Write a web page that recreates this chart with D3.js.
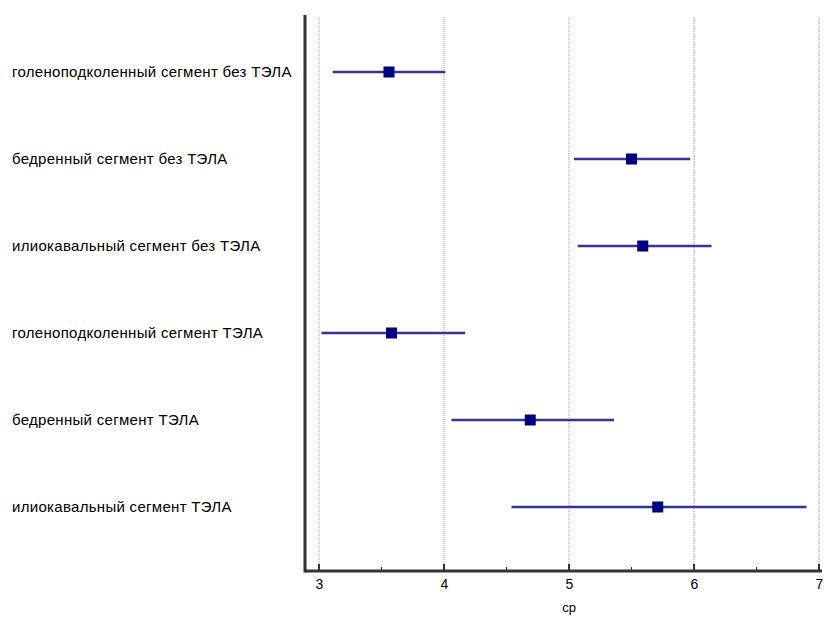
<!DOCTYPE html>
<html>
<head>
<meta charset="utf-8">
<script src="https://cdn.jsdelivr.net/npm/d3@7"></script>
<style>
body { margin: 0; background: #fff; }
text { font-family: "Liberation Sans", Arial, sans-serif; fill: #000; }
</style>
</head>
<body>
<div id="chart"></div>
<script>
// groups, top to bottom
var groups = [
	"голеноподколенный сегмент без ТЭЛА",
	"бедренный сегмент без ТЭЛА",
	"илиокавальный сегмент без ТЭЛА",
	"голеноподколенный сегмент ТЭЛА",
	"бедренный сегмент ТЭЛА",
	"илиокавальный сегмент ТЭЛА"
];
var means = [3.56, 5.50, 5.59, 3.58, 4.69, 5.71];
var lower = [3.11, 5.04, 5.07, 3.02, 4.06, 4.54];
var upper = [4.01, 5.97, 6.14, 4.17, 5.36, 6.90];
var tickValues = [3, 4, 5, 6, 7];
var minorTicks = [3.5, 4.5, 5.5, 6.5];

var size = { width: 824, height: 617 };
var margin = { top: 15, left: 305, right: 2, bottom: 46 };

var svg = d3.select("#chart").append("svg")
	.attr("width", size.width)
	.attr("height", size.height);

// x scale: 3 -> 319px, 7 -> 819px
var x = d3.scaleLinear()
	.domain([2.888, 7.024])
	.range([margin.left, size.width - margin.right]);

var axisY = size.height - margin.bottom;

var y = d3.scalePoint()
	.domain(groups)
	.range([72, 507]);

// dotted grid
svg.append("g")
	.selectAll("line")
	.data(tickValues)
	.enter()
	.append("line")
	.attr("x1", function(d) { return x(d); })
	.attr("x2", function(d) { return x(d); })
	.attr("y1", margin.top + 2)
	.attr("y2", axisY)
	.attr("stroke", "#999")
	.attr("stroke-width", 1)
	.attr("stroke-dasharray", "1,1");

// x axis with inward ticks
var x_axis = d3.axisBottom(x)
	.tickValues(tickValues)
	.tickSize(0)
	.tickPadding(8)
	.tickFormat(d3.format("d"));

var gx = svg.append("g")
	.attr("transform", "translate(0," + axisY + ")")
	.call(x_axis);
gx.select(".domain").remove();
gx.selectAll("text")
	.style("font-size", "14px")
	.style("font-family", "'Liberation Sans', Arial, sans-serif")
	.attr("fill", "#000");

svg.append("g").selectAll("line")
	.data(tickValues)
	.enter()
	.append("line")
	.attr("x1", function(d) { return x(d); })
	.attr("x2", function(d) { return x(d); })
	.attr("y1", axisY)
	.attr("y2", axisY - 7)
	.attr("stroke", "#333")
	.attr("stroke-width", 2);

svg.append("g").selectAll("line")
	.data(minorTicks)
	.enter()
	.append("line")
	.attr("x1", function(d) { return x(d); })
	.attr("x2", function(d) { return x(d); })
	.attr("y1", axisY)
	.attr("y2", axisY - 4)
	.attr("stroke", "#333")
	.attr("stroke-width", 1);

// axis lines
svg.append("line")
	.attr("x1", margin.left)
	.attr("x2", size.width - margin.right)
	.attr("y1", axisY)
	.attr("y2", axisY)
	.attr("stroke", "#333")
	.attr("stroke-width", 3);

svg.append("line")
	.attr("x1", margin.left)
	.attr("x2", margin.left)
	.attr("y1", margin.top)
	.attr("y2", axisY + 1.5)
	.attr("stroke", "#333")
	.attr("stroke-width", 3);

// x label
svg.append("text")
	.attr("x", x(5))
	.attr("y", 612)
	.attr("text-anchor", "middle")
	.style("font-size", "13px")
	.text("ср");

// group labels
svg.append("g").selectAll("text")
	.data(groups)
	.enter()
	.append("text")
	.attr("x", 12)
	.attr("y", function(d) { return y(d); })
	.attr("dy", "0.35em")
	.style("font-size", "15px")
	.style("letter-spacing", "0.3px")
	.text(function(d) { return d; });

// intervals
var rows = groups.map(function(g, i) {
	return { name: g, mean: means[i], lo: lower[i], hi: upper[i] };
});

svg.append("g").selectAll("line")
	.data(rows)
	.enter()
	.append("line")
	.attr("x1", function(d) { return x(d.lo); })
	.attr("x2", function(d) { return x(d.hi); })
	.attr("y1", function(d) { return y(d.name); })
	.attr("y2", function(d) { return y(d.name); })
	.attr("stroke", "#333399")
	.attr("stroke-width", 2.5);

var sq = 11;
svg.append("g").selectAll("rect")
	.data(rows)
	.enter()
	.append("rect")
	.attr("x", function(d) { return x(d.mean) - sq / 2; })
	.attr("y", function(d) { return y(d.name) - sq / 2; })
	.attr("width", sq)
	.attr("height", sq)
	.attr("fill", "#000080");
</script>
</body>
</html>
